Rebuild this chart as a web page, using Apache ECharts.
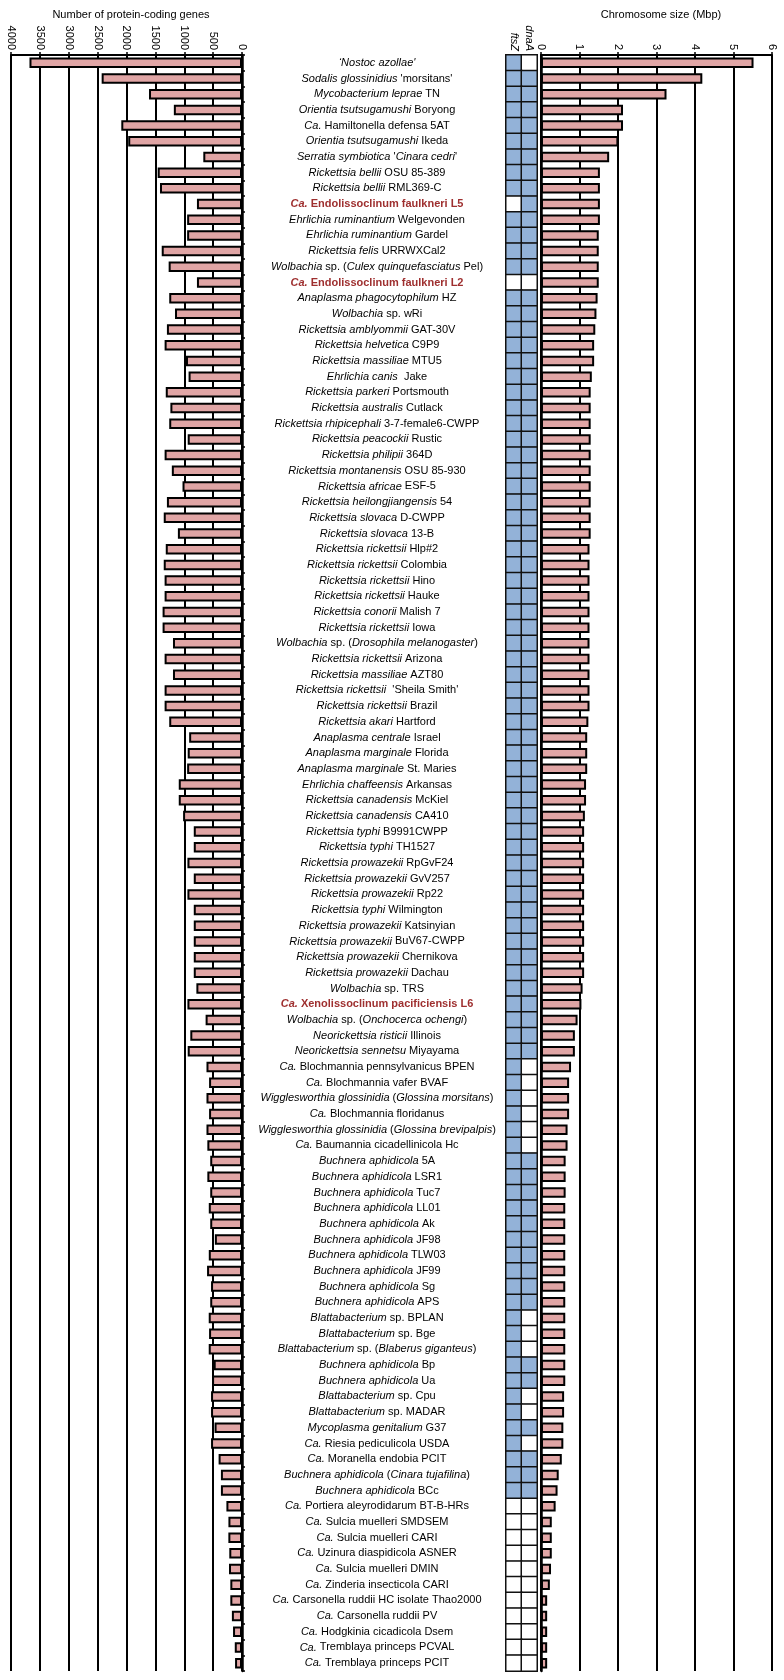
<!DOCTYPE html>
<html>
<head>
<meta charset="utf-8">
<script src="https://cdn.jsdelivr.net/npm/echarts@6/dist/echarts.min.js"></script>
<style>
html,body{margin:0;padding:0;background:#fff;}
#chart{width:784px;height:1680px;}
</style>
</head>
<body>
<div id="chart"></div>
<script>
const categories = [
"{i|‘Nostoc azollae'}",
"{i|Sodalis glossinidius} 'morsitans'",
"{i|Mycobacterium leprae} TN",
"{i|Orientia tsutsugamushi} Boryong",
"{i|Ca.} Hamiltonella defensa 5AT",
"{i|Orientia tsutsugamushi} Ikeda",
"{i|Serratia symbiotica} '{i|Cinara cedri}'",
"{i|Rickettsia bellii} OSU 85-389",
"{i|Rickettsia bellii} RML369-C",
"{ri|Ca.} {rb|Endolissoclinum faulkneri L5}",
"{i|Ehrlichia ruminantium} Welgevonden",
"{i|Ehrlichia ruminantium} Gardel",
"{i|Rickettsia felis} URRWXCal2",
"{i|Wolbachia} sp. ({i|Culex quinquefasciatus} Pel)",
"{ri|Ca.} {rb|Endolissoclinum faulkneri L2}",
"{i|Anaplasma phagocytophilum} HZ",
"{i|Wolbachia} sp. wRi",
"{i|Rickettsia amblyommii} GAT-30V",
"{i|Rickettsia helvetica} C9P9",
"{i|Rickettsia massiliae} MTU5",
"{i|Ehrlichia canis}  Jake",
"{i|Rickettsia parkeri} Portsmouth",
"{i|Rickettsia australis} Cutlack",
"{i|Rickettsia rhipicephali} 3-7-female6-CWPP",
"{i|Rickettsia peacockii} Rustic",
"{i|Rickettsia philipii} 364D",
"{i|Rickettsia montanensis} OSU 85-930",
"{i|Rickettsia africae} ESF-5",
"{i|Rickettsia heilongjiangensis} 54",
"{i|Rickettsia slovaca} D-CWPP",
"{i|Rickettsia slovaca} 13-B",
"{i|Rickettsia rickettsii} Hlp#2",
"{i|Rickettsia rickettsii} Colombia",
"{i|Rickettsia rickettsii} Hino",
"{i|Rickettsia rickettsii} Hauke",
"{i|Rickettsia conorii} Malish 7",
"{i|Rickettsia rickettsii} Iowa",
"{i|Wolbachia} sp. ({i|Drosophila melanogaster})",
"{i|Rickettsia rickettsii} Arizona",
"{i|Rickettsia massiliae} AZT80",
"{i|Rickettsia rickettsii}  'Sheila Smith'",
"{i|Rickettsia rickettsii} Brazil",
"{i|Rickettsia akari} Hartford",
"{i|Anaplasma centrale} Israel",
"{i|Anaplasma marginale} Florida",
"{i|Anaplasma marginale} St. Maries",
"{i|Ehrlichia chaffeensis} Arkansas",
"{i|Rickettsia canadensis} McKiel",
"{i|Rickettsia canadensis} CA410",
"{i|Rickettsia typhi} B9991CWPP",
"{i|Rickettsia typhi} TH1527",
"{i|Rickettsia prowazekii} RpGvF24",
"{i|Rickettsia prowazekii} GvV257",
"{i|Rickettsia prowazekii} Rp22",
"{i|Rickettsia typhi} Wilmington",
"{i|Rickettsia prowazekii} Katsinyian",
"{i|Rickettsia prowazekii} BuV67-CWPP",
"{i|Rickettsia prowazekii} Chernikova",
"{i|Rickettsia prowazekii} Dachau",
"{i|Wolbachia} sp. TRS",
"{ri|Ca.} {rb|Xenolissoclinum pacificiensis L6}",
"{i|Wolbachia} sp. ({i|Onchocerca ochengi})",
"{i|Neorickettsia risticii} Illinois",
"{i|Neorickettsia sennetsu} Miyayama",
"{i|Ca.} Blochmannia pennsylvanicus BPEN",
"{i|Ca.} Blochmannia vafer BVAF",
"{i|Wigglesworthia glossinidia} ({i|Glossina morsitans})",
"{i|Ca.} Blochmannia floridanus",
"{i|Wigglesworthia glossinidia} ({i|Glossina brevipalpis})",
"{i|Ca.} Baumannia cicadellinicola Hc",
"{i|Buchnera aphidicola} 5A",
"{i|Buchnera aphidicola} LSR1",
"{i|Buchnera aphidicola} Tuc7",
"{i|Buchnera aphidicola} LL01",
"{i|Buchnera aphidicola} Ak",
"{i|Buchnera aphidicola} JF98",
"{i|Buchnera aphidicola} TLW03",
"{i|Buchnera aphidicola} JF99",
"{i|Buchnera aphidicola} Sg",
"{i|Buchnera aphidicola} APS",
"{i|Blattabacterium} sp. BPLAN",
"{i|Blattabacterium} sp. Bge",
"{i|Blattabacterium} sp. ({i|Blaberus giganteus})",
"{i|Buchnera aphidicola} Bp",
"{i|Buchnera aphidicola} Ua",
"{i|Blattabacterium} sp. Cpu",
"{i|Blattabacterium} sp. MADAR",
"{i|Mycoplasma genitalium} G37",
"{i|Ca.} Riesia pediculicola USDA",
"{i|Ca.} Moranella endobia PCIT",
"{i|Buchnera aphidicola} ({i|Cinara tujafilina})",
"{i|Buchnera aphidicola} BCc",
"{i|Ca.} Portiera aleyrodidarum BT-B-HRs",
"{i|Ca.} Sulcia muelleri SMDSEM",
"{i|Ca.} Sulcia muelleri CARI",
"{i|Ca.} Uzinura diaspidicola ASNER",
"{i|Ca.} Sulcia muelleri DMIN",
"{i|Ca.} Zinderia insecticola CARI",
"{i|Ca.} Carsonella ruddii HC isolate Thao2000",
"{i|Ca.} Carsonella ruddii PV",
"{i|Ca.} Hodgkinia cicadicola Dsem",
"{i|Ca.} Tremblaya princeps PCVAL",
"{i|Ca.} Tremblaya princeps PCIT"
];

const geneCounts = [
3680,2430,1610,1180,2090,1970,670,1460,1420,780,
950,950,1390,1270,780,1260,1160,1300,1340,970,
925,1320,1240,1260,940,1340,1215,1030,1300,1355,
1110,1320,1355,1340,1340,1375,1375,1195,1340,1195,
1340,1340,1260,915,940,950,1095,1095,1020,835,
835,945,835,945,835,835,835,835,835,790,
945,630,895,940,615,570,615,570,615,600,
550,600,550,575,550,470,575,605,536,550,
576,570,576,490,518,536,536,475,536,405,
365,365,270,235,236,220,225,202,202,175,
155,125,120
];

const chromosomeMbp = [
5.52,4.19,3.26,2.13,2.13,2.01,1.77,1.53,1.53,1.53,
1.53,1.50,1.50,1.50,1.50,1.47,1.44,1.41,1.38,1.38,
1.32,1.29,1.29,1.29,1.29,1.29,1.29,1.29,1.29,1.29,
1.29,1.26,1.26,1.26,1.26,1.26,1.26,1.26,1.26,1.26,
1.26,1.26,1.23,1.20,1.20,1.20,1.17,1.17,1.14,1.12,
1.12,1.12,1.12,1.12,1.12,1.12,1.12,1.12,1.12,1.08,
1.05,0.95,0.88,0.88,0.78,0.73,0.73,0.73,0.69,0.69,
0.64,0.64,0.64,0.63,0.63,0.63,0.63,0.63,0.63,0.63,
0.63,0.63,0.63,0.63,0.63,0.60,0.60,0.58,0.58,0.54,
0.46,0.43,0.38,0.28,0.28,0.28,0.26,0.23,0.16,0.16,
0.16,0.16,0.16
];

const ftsZ = [
1,1,1,1,1,1,1,1,1,0,
1,1,1,1,0,1,1,1,1,1,
1,1,1,1,1,1,1,1,1,1,
1,1,1,1,1,1,1,1,1,1,
1,1,1,1,1,1,1,1,1,1,
1,1,1,1,1,1,1,1,1,1,
1,1,1,1,1,1,1,1,1,1,
1,1,1,1,1,1,1,1,1,1,
1,1,1,1,1,1,1,1,1,1,
1,1,0,0,0,0,0,0,0,0,
0,0,0
];

const dnaA = [
0,1,1,1,1,1,1,1,1,1,
1,1,1,1,0,1,1,1,1,1,
1,1,1,1,1,1,1,1,1,1,
1,1,1,1,1,1,1,1,1,1,
1,1,1,1,1,1,1,1,1,1,
1,1,1,1,1,1,1,1,1,1,
1,1,1,1,0,0,0,0,0,0,
1,1,1,1,1,1,1,1,1,1,
0,0,0,1,1,0,0,1,0,1,
1,1,0,0,0,0,0,0,0,0,
0,0,0
];

const geneTicks = {min: 0, max: 4000, interval: 500};
const sizeTicks = {min: 0, max: 6, interval: 1};
const geneColumns = ['ftsZ', 'dnaA'];

const FONT = "'Liberation Sans', Arial, Helvetica, sans-serif";
const BAR = '#e0a5a5';
const BLUE = '#93b2d8';
const RED = '#9e2f2f';
const TOP = 55, H = 1616;

const heatData = [];
categories.forEach((c, i) => {
  heatData.push([0, i, ftsZ[i]]);
  heatData.push([1, i, dnaA[i]]);
});

const chart = echarts.init(document.getElementById('chart'), null, {renderer: 'canvas'});
const valueAxisCommon = {
  type: 'value',
  position: 'top',
  axisLine: {show: true, lineStyle: {color: '#000', width: 2}},
  axisTick: {show: true, length: 3, lineStyle: {color: '#000', width: 1.5}},
  splitLine: {show: true, lineStyle: {color: '#000', width: 2}},
  axisLabel: {rotate: 90, margin: 5, fontSize: 11, color: '#000', fontFamily: FONT,
    formatter: v => String(v)}
};

chart.setOption({
  animation: false,
  backgroundColor: '#fff',
  title: [
    {text: 'Number of protein-coding genes', left: 126, top: 4, textAlign: 'center',
     textStyle: {fontSize: 11, fontWeight: 'normal', color: '#000', fontFamily: FONT}},
    {text: 'Chromosome size (Mbp)', left: 656, top: 4, textAlign: 'center',
     textStyle: {fontSize: 11, fontWeight: 'normal', color: '#000', fontFamily: FONT}}
  ],
  grid: [
    {left: 11, top: TOP, width: 231, height: H},
    {left: 506, top: TOP, width: 31, height: H},
    {left: 541, top: TOP, width: 231, height: H}
  ],
  visualMap: {
    type: 'piecewise', show: false, seriesIndex: 1, dimension: 2,
    pieces: [{value: 0, color: '#ffffff'}, {value: 1, color: BLUE}]
  },
  xAxis: [
    Object.assign({}, valueAxisCommon, {gridIndex: 0, inverse: true,
      min: geneTicks.min, max: geneTicks.max, interval: geneTicks.interval}),
    {gridIndex: 1, type: 'category', position: 'top', data: geneColumns,
      axisLine: {show: false}, axisTick: {show: false}, splitLine: {show: false},
      axisLabel: {rotate: 90, margin: 4, fontSize: 11, fontStyle: 'italic', color: '#000', fontFamily: FONT, interval: 0}},
    Object.assign({}, valueAxisCommon, {gridIndex: 2,
      min: sizeTicks.min, max: sizeTicks.max, interval: sizeTicks.interval})
  ],
  yAxis: [
    {gridIndex: 0, type: 'category', inverse: true, position: 'right', data: categories,
      axisLine: {show: true, onZero: false, lineStyle: {color: '#000', width: 2.5}},
      axisTick: {show: true, interval: 0, length: 3, lineStyle: {color: '#000', width: 1.5}},
      splitLine: {show: false},
      axisLabel: {
        interval: 0, margin: 135, align: 'center', fontSize: 11, color: '#000', fontFamily: FONT,
        formatter: v => v,
        rich: {
          i: {fontStyle: 'italic', fontSize: 11, color: '#000', fontFamily: FONT},
          ri: {fontStyle: 'italic', fontWeight: 'bold', fontSize: 11, color: RED, fontFamily: FONT},
          rb: {fontWeight: 'bold', fontSize: 11, color: RED, fontFamily: FONT}
        }
      }},
    {gridIndex: 1, type: 'category', inverse: true, data: categories,
      axisLine: {show: false}, axisTick: {show: false}, axisLabel: {show: false}, splitLine: {show: false}},
    {gridIndex: 2, type: 'category', inverse: true, position: 'left', data: categories,
      axisLine: {show: true, onZero: false, lineStyle: {color: '#000', width: 2.5}},
      axisTick: {show: false}, axisLabel: {show: false}, splitLine: {show: false}}
  ],
  series: [
    {type: 'bar', xAxisIndex: 0, yAxisIndex: 0, data: geneCounts, barWidth: 10.5,
      itemStyle: {color: BAR, borderColor: '#000', borderWidth: 2}},
    {type: 'heatmap', xAxisIndex: 1, yAxisIndex: 1, data: heatData,
      itemStyle: {borderColor: '#111', borderWidth: 1.5}},
    {type: 'bar', xAxisIndex: 2, yAxisIndex: 2, data: chromosomeMbp, barWidth: 10.5,
      itemStyle: {color: BAR, borderColor: '#000', borderWidth: 2}}
  ]
});
</script>
</body>
</html>
